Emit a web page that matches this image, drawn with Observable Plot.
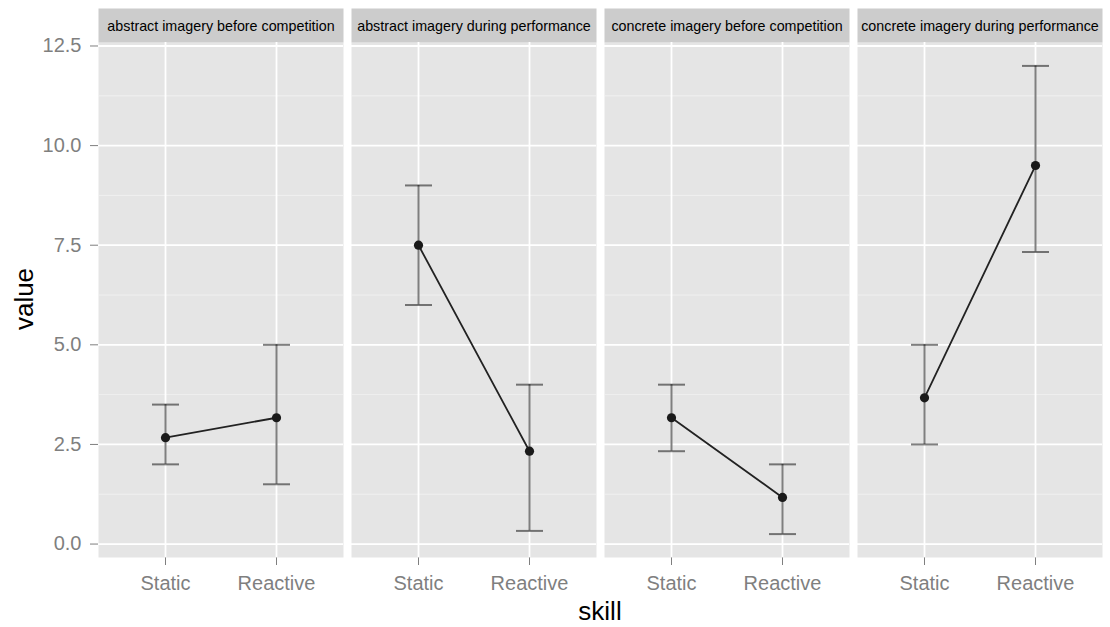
<!DOCTYPE html>
<html>
<head>
<meta charset="utf-8">
<script src="https://cdn.jsdelivr.net/npm/d3@7"></script>
<script src="https://cdn.jsdelivr.net/npm/@observablehq/plot@0.6"></script>
<style>
  body { margin: 0; background: #ffffff; }
  #chart { position: relative; width: 1110px; height: 627px; font-family: "Liberation Sans", Arial, sans-serif; }
  .axis-title { position: absolute; color: #000; font-size: 26px; white-space: nowrap; line-height: 1; }
  #ylab { left: 24px; top: 299px; transform: translate(-50%, -50%) rotate(-90deg); }
  #xlab { left: 600px; top: 611px; transform: translate(-50%, -50%); }
</style>
</head>
<body>
<div id="chart"></div>
<script>
// ---- data ----
const panels = [
  "abstract imagery before competition",
  "abstract imagery during performance",
  "concrete imagery before competition",
  "concrete imagery during performance"
];
const skills = ["Static", "Reactive"];
// values ordered panel by panel: [Static, Reactive]
const meanValues  = [2.67, 3.17,  7.5, 2.33,  3.17, 1.17,  3.67, 9.5];
const lowerValues = [2.0,  1.5,   6.0, 0.33,  2.33, 0.25,  2.5,  7.33];
const upperValues = [3.5,  5.0,   9.0, 4.0,   4.0,  2.0,   5.0,  12.0];
const yMajorTicks = [0, 2.5, 5, 7.5, 10, 12.5];
const yMinorTicks = [1.25, 3.75, 6.25, 8.75, 11.25];
const xTitle = "skill";
const yTitle = "value";

const rows = panels.flatMap((p, i) => skills.map((s, j) => ({
  panel: p,
  skill: s,
  mean: meanValues[i * 2 + j],
  lo: lowerValues[i * 2 + j],
  hi: upperValues[i * 2 + j]
})));

// horizontal-line symbol for error-bar caps
const capSymbol = {
  draw(ctx, size) {
    const r = Math.sqrt(size / Math.PI);
    ctx.moveTo(-r, 0);
    ctx.lineTo(r, 0);
  }
};

const chart = Plot.plot({
  width: 1110,
  height: 627,
  marginLeft: 98,
  marginRight: 8,
  marginTop: 42,
  marginBottom: 70,
  style: { fontFamily: "Liberation Sans, Arial, sans-serif", fontSize: "20px", color: "#7f7f7f", background: "white" },
  fx: { domain: panels, axis: null, paddingInner: 0.032, paddingOuter: 0, label: null },
  x: { type: "point", domain: skills, padding: 0.6, tickSize: 8, tickPadding: 10, label: null },
  y: { domain: [-0.3375, 12.5875], ticks: yMajorTicks, tickFormat: d3.format(".1f"), tickSize: 8, tickPadding: 9, label: null },
  marks: [
    // panel background
    Plot.frame({ fill: "#E5E5E5", stroke: "none" }),
    // strip background
    Plot.frame({ fill: "#CCCCCC", stroke: "none", insetTop: -34, insetBottom: 515 }),
    // grid
    Plot.ruleY(yMinorTicks, { stroke: "#F2F2F2", strokeWidth: 0.8 }),
    Plot.ruleY(yMajorTicks, { stroke: "#FFFFFF", strokeWidth: 1.8 }),
    Plot.ruleX(skills, { x: d => d, stroke: "#FFFFFF", strokeWidth: 1.8 }),
    // error bars
    Plot.ruleX(rows, { fx: "panel", x: "skill", y1: "lo", y2: "hi", stroke: "#000", strokeOpacity: 0.5, strokeWidth: 2 }),
    Plot.dot(rows, { fx: "panel", x: "skill", y: "lo", symbol: capSymbol, r: 13.5, fill: "none", stroke: "#000", strokeOpacity: 0.5, strokeWidth: 2 }),
    Plot.dot(rows, { fx: "panel", x: "skill", y: "hi", symbol: capSymbol, r: 13.5, fill: "none", stroke: "#000", strokeOpacity: 0.5, strokeWidth: 2 }),
    // connecting line
    Plot.line(rows, { fx: "panel", x: "skill", y: "mean", stroke: "#222222", strokeWidth: 1.8 }),
    // points
    Plot.dot(rows, { fx: "panel", x: "skill", y: "mean", r: 4.6, fill: "#1a1a1a", stroke: "none" }),
    // strip labels
    Plot.text(panels, { fx: d => d, text: d => d, frameAnchor: "top", dy: -16, lineAnchor: "middle", fontSize: 14.3, fill: "#000" })
  ]
});

const root = document.getElementById("chart");
root.appendChild(chart);
const yl = document.createElement("div");
yl.id = "ylab"; yl.className = "axis-title"; yl.textContent = yTitle;
const xl = document.createElement("div");
xl.id = "xlab"; xl.className = "axis-title"; xl.textContent = xTitle;
root.appendChild(yl);
root.appendChild(xl);
</script>
</body>
</html>
